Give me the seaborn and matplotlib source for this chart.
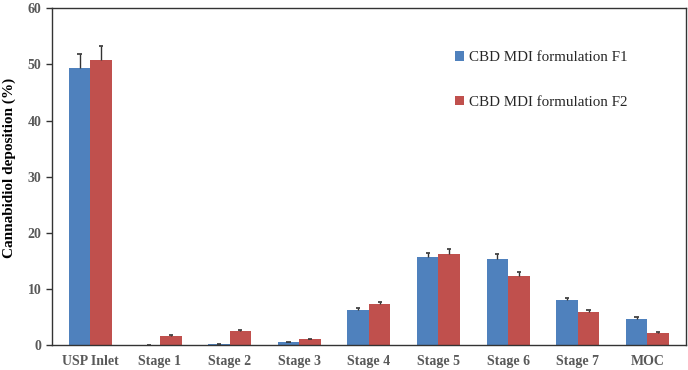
import matplotlib
matplotlib.use("Agg")
import matplotlib.pyplot as plt
import seaborn as sns
import pandas as pd
import numpy as np

categories = ["USP Inlet", "Stage 1", "Stage 2", "Stage 3", "Stage 4", "Stage 5", "Stage 6", "Stage 7", "MOC"]
series_names = ["CBD MDI formulation F1", "CBD MDI formulation F2"]
f1_values = [49.4, 0.0, 0.1, 0.5, 6.2, 15.6, 15.4, 8.0, 4.7]
f1_errors = [2.5, 0.0, 0.05, 0.1, 0.4, 0.8, 0.8, 0.4, 0.3]
f2_values = [50.8, 1.6, 2.5, 1.0, 7.3, 16.2, 12.3, 5.9, 2.2]
f2_errors = [2.5, 0.1, 0.2, 0.1, 0.4, 0.9, 0.7, 0.4, 0.1]
colors = ["#4F81BD", "#C0504D"]

df = pd.DataFrame({
    "Stage": categories * 2,
    "Formulation": [series_names[0]] * len(categories) + [series_names[1]] * len(categories),
    "Value": f1_values + f2_values,
})

sns.set_style("white")
plt.rcParams["font.family"] = ["Liberation Serif", "DejaVu Serif"]

fig = plt.figure(figsize=(6.88, 3.70), dpi=100)
ax = fig.add_axes([0.0756, 0.0676, 0.921, 0.910])

sns.barplot(data=df, x="Stage", y="Value", hue="Formulation", palette=colors,
            width=0.62, errorbar=None, ax=ax, saturation=1, linewidth=0)

errs = [f1_errors, f2_errors]
for cont, err in zip(ax.containers, errs):
    xs = np.array([p.get_x() + p.get_width() / 2 for p in cont])
    hs = np.array([p.get_height() for p in cont])
    tops = hs + np.array(err)
    ax.vlines(xs, hs, tops, color="#333333", linewidth=1.0, zorder=3)
    ax.hlines(tops, xs - 0.03, xs + 0.03, color="#333333", linewidth=1.2, zorder=3)

ax.set_ylim(0, 60)
ax.set_xlim(-0.55, len(categories) - 0.45)
ax.set_yticks(range(0, 61, 10))
ax.set_xlabel("")
ax.set_ylabel("Cannabidiol deposition (%)", fontsize=11, fontweight="bold", color="black")
ax.yaxis.set_label_coords(-0.057, 0.525)
for lab in ax.get_yticklabels() + ax.get_xticklabels():
    lab.set_fontweight("bold")
    lab.set_color("#595959")
    lab.set_fontsize(10)
ax.tick_params(axis="y", direction="out", length=4, width=1, color="#333333", left=True)
ax.tick_params(axis="x", length=0, pad=7)
for s in ax.spines.values():
    s.set_visible(True)
    s.set_color("#333333")
    s.set_linewidth(1.0)

leg = ax.legend(loc="upper left", bbox_to_anchor=(0.615, 0.913), frameon=False,
                fontsize=10.8, handlelength=0.6, handleheight=0.6, handletextpad=0.3,
                labelspacing=2.1)

fig.savefig("out.png", dpi=100)
